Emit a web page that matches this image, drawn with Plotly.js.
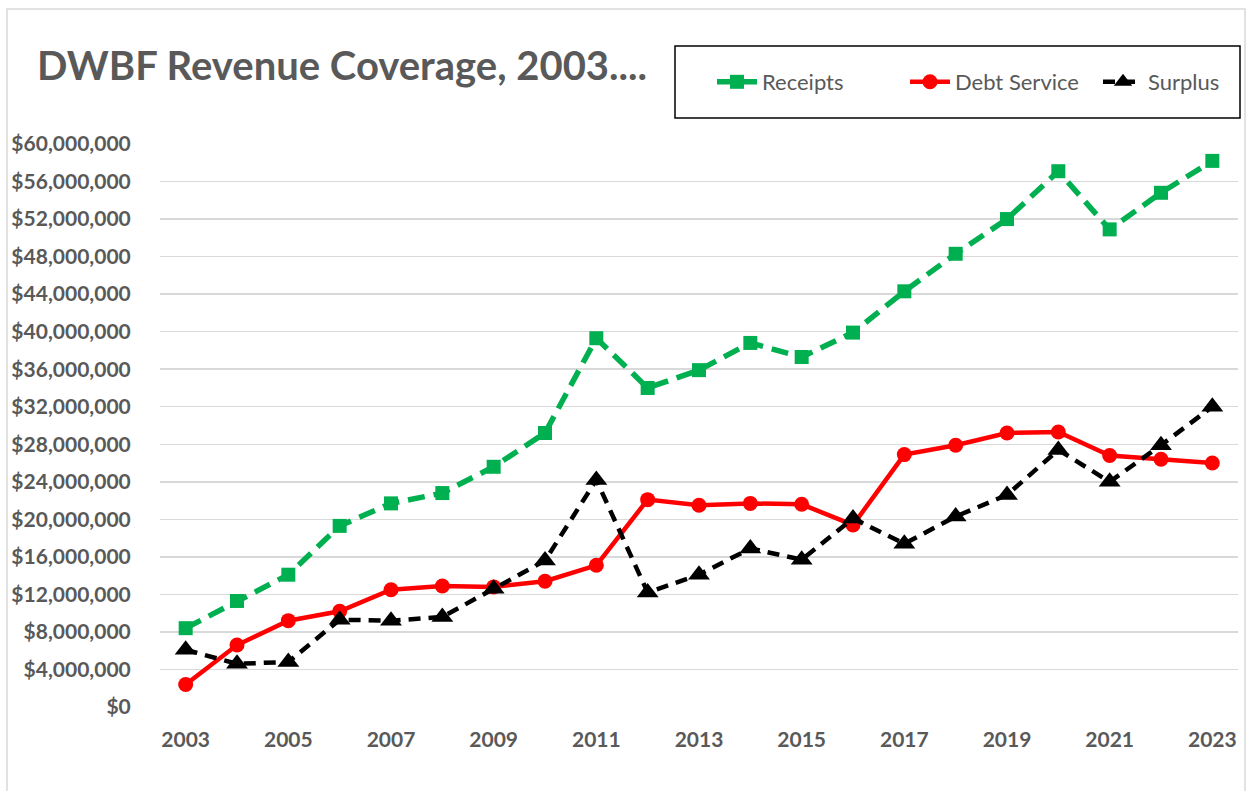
<!DOCTYPE html>
<html>
<head>
<meta charset="utf-8">
<script src="https://cdn.plot.ly/plotly-3.0.1.min.js"></script>
<style>
  html, body { margin: 0; padding: 0; background: #ffffff; }
  #chart { width: 1247px; height: 791px; }
</style>
</head>
<body>
<div id="chart"></div>
<script>
const years = [2003, 2004, 2005, 2006, 2007, 2008, 2009, 2010, 2011, 2012, 2013,
               2014, 2015, 2016, 2017, 2018, 2019, 2020, 2021, 2022, 2023];
const receipts = [8.4, 11.3, 14.1, 19.3, 21.7, 22.8, 25.6, 29.2, 39.3, 34.0, 35.9,
                  38.8, 37.3, 39.9, 44.3, 48.3, 52.0, 57.1, 50.9, 54.8, 58.2].map(v => v * 1e6);
const debtService = [2.4, 6.6, 9.2, 10.2, 12.5, 12.9, 12.8, 13.4, 15.1, 22.1, 21.5,
                     21.7, 21.6, 19.4, 26.9, 27.9, 29.2, 29.3, 26.8, 26.4, 26.0].map(v => v * 1e6);
const surplus = [6.1, 4.6, 4.8, 9.3, 9.2, 9.6, 12.6, 15.6, 24.2, 12.2, 14.1,
                 16.9, 15.7, 20.1, 17.4, 20.3, 22.6, 27.4, 24.0, 27.9, 32.0].map(v => v * 1e6);
const xTickVals = [2003, 2005, 2007, 2009, 2011, 2013, 2015, 2017, 2019, 2021, 2023];
const yTickVals = [0, 4, 8, 12, 16, 20, 24, 28, 32, 36, 40, 44, 48, 52, 56, 60].map(v => v * 1e6);
const yTickText = yTickVals.map(v => '$' + v.toLocaleString('en-US'));

const gray = '#595959';
const fontFam = 'Lato, "Open Sans", sans-serif';

const traces = [
  {
    x: years, y: receipts, name: 'Receipts', type: 'scatter', mode: 'lines+markers',
    line: { color: '#00b050', width: 5.5, dash: '17px,9px' },
    marker: { symbol: 'square', size: 14, color: '#00b050' }
  },
  {
    x: years, y: debtService, name: 'Debt Service', type: 'scatter', mode: 'lines+markers',
    line: { color: '#ff0000', width: 4.5 },
    marker: { symbol: 'circle', size: 15, color: '#ff0000' }
  },
  {
    x: years, y: surplus, name: 'Surplus', type: 'scatter', mode: 'lines+markers',
    line: { color: '#000000', width: 4.5, dash: '12px,8px' },
    marker: { symbol: 'triangle-up', size: 19, color: '#000000' }
  }
];

// plot area in px: left 160, right 1238, top 144, bottom 707
const L = 160, R = 1238, T = 144, B = 707;
const px = x => (x - L) / (R - L);
const py = y => (B - y) / (B - T);

const layout = {
  width: 1247, height: 791,
  margin: { l: L, r: 1247 - R, t: T, b: 791 - B, pad: 0, autoexpand: false },
  paper_bgcolor: '#ffffff', plot_bgcolor: '#ffffff',
  font: { family: fontFam, color: gray },
  title: {
    text: '<b>DWBF Revenue Coverage, 2003....</b>',
    font: { family: fontFam, size: 40, color: gray },
    xref: 'container', x: 37 / 1247, xanchor: 'left',
    yref: 'container', y: 1 - 66 / 791, yanchor: 'middle'
  },
  showlegend: true,
  legend: {
    orientation: 'h', xref: 'paper', yref: 'paper',
    x: px(712), xanchor: 'left', y: py(82), yanchor: 'middle',
    font: { family: fontFam, size: 22, color: gray },
    bgcolor: 'rgba(0,0,0,0)', borderwidth: 0,
    itemwidth: 40, tracegroupgap: 0,
    entrywidth: 138, entrywidthmode: 'pixels'
  },
  xaxis: {
    range: [2002.5, 2023.5],
    tickmode: 'array', tickvals: xTickVals,
    ticktext: xTickVals.map(String),
    tickfont: { family: fontFam, size: 21, color: gray, weight: 'bold' },
    showgrid: false, zeroline: false, showline: false,
    ticks: 'outside', ticklen: 14, tickcolor: 'rgba(0,0,0,0)',
    automargin: false, fixedrange: true
  },
  yaxis: {
    range: [0, 60e6],
    tickmode: 'array', tickvals: yTickVals, ticktext: yTickText,
    tickfont: { family: fontFam, size: 21, color: gray, weight: 'bold' },
    showgrid: true, gridcolor: '#d9d9d9', gridwidth: 1.5,
    zeroline: false, showline: false,
    ticks: 'outside', ticklen: 24, tickcolor: 'rgba(0,0,0,0)',
    automargin: false, fixedrange: true
  },
  shapes: [
    {
      type: 'rect', xref: 'paper', yref: 'paper',
      x0: px(7), x1: px(1245), y0: py(800), y1: py(9),
      line: { color: '#d9d9d9', width: 1.5 }, fillcolor: 'rgba(0,0,0,0)', layer: 'below'
    },
    {
      type: 'rect', xref: 'paper', yref: 'paper',
      x0: px(675), x1: px(1240), y0: py(118), y1: py(46),
      line: { color: '#000000', width: 1.5 }, fillcolor: 'rgba(0,0,0,0)', layer: 'above'
    }
  ]
};

Plotly.newPlot('chart', traces, layout, { displayModeBar: false, staticPlot: true });
</script>
</body>
</html>
